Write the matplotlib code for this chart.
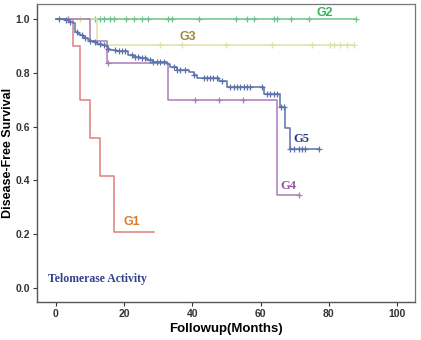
import numpy as np
import matplotlib
matplotlib.use("Agg")
import matplotlib.pyplot as plt

# ---------------- data ----------------
# each group: event times (months), survival after each event, end of follow-up, censor times
g1_times = [5.0, 7.0, 10.0, 13.0, 17.0]
g1_surv = [0.90, 0.70, 0.556, 0.417, 0.208]
g1_end = 28.7
g1_cens = []

g2_times = []
g2_surv = []
g2_end = 88.1
g2_cens = [11.5, 13.0, 14.2, 15.9, 17.1, 20.6, 22.8, 25.2, 27.0, 33.0, 34.0, 42.0,
           52.9, 56.0, 58.0, 63.8, 64.8, 68.9, 74.1, 88.1]

g3_times = [12.0]
g3_surv = [0.902]
g3_end = 87.5
g3_cens = [3.7, 7.1, 30.6, 37.0, 50.0, 63.3, 75.0, 80.3, 81.4, 83.4, 85.3, 87.5]

g4_times = [9.9, 15.0, 32.8, 64.8]
g4_surv = [0.917, 0.835, 0.698, 0.345]
g4_end = 71.4
g4_cens = [3.7, 15.2, 40.9, 47.9, 55.0, 71.4]

g5_times = [3.0, 4.2, 5.0, 5.7, 6.4, 7.1, 7.9, 8.6, 9.3, 10.1, 11.1, 12.2, 13.5, 14.5,
            15.2, 16.0, 17.5, 21.3, 22.8, 24.7, 26.7, 28.6, 32.5, 33.5, 35.5, 38.9,
            40.4, 41.4, 47.7, 50.2, 61.0, 65.6, 67.3, 68.5]
g5_surv = [0.995, 0.99, 0.985, 0.95, 0.945, 0.94, 0.933, 0.928, 0.923, 0.918, 0.913,
           0.908, 0.903, 0.898, 0.890, 0.886, 0.882, 0.866, 0.860, 0.853, 0.847, 0.841,
           0.834, 0.822, 0.810, 0.803, 0.790, 0.781, 0.770, 0.746, 0.720, 0.671, 0.595,
           0.518]
g5_end = 77.2
g5_cens = [0.8, 3.0, 4.2, 6.2, 7.6, 8.6, 10.1, 11.5, 13.0, 14.0, 15.4, 17.4, 18.4, 19.4,
           20.3, 22.3, 23.3, 24.2, 25.2, 26.2, 27.7, 28.6, 29.6, 30.6, 31.6, 34.5, 35.5,
           36.5, 37.9, 40.4, 43.3, 44.3, 45.3, 46.2, 47.2, 48.7, 51.1, 52.1, 53.1, 54.1,
           55.1, 56.0, 57.0, 60.4, 61.9, 62.9, 63.8, 64.8, 66.1, 66.8, 68.7, 69.7, 71.2,
           72.1, 73.1, 77.2]

group_names = ["G1", "G2", "G3", "G4", "G5"]
x_ticks = [0, 20, 40, 60, 80, 100]
y_ticks = [0.0, 0.2, 0.4, 0.6, 0.8, 1.0]

# ---------------- styling ----------------
line_colors = ["#e07f7f", "#6cc48a", "#dfe0a6", "#a97cba", "#5c72aa"]
label_colors = ["#e07a2c", "#36b25e", "#9c8a3e", "#9a4fa0", "#27377f"]

plt.rcParams['font.family'] = ['Liberation Sans', 'DejaVu Sans']

fig = plt.figure(figsize=(4.21, 3.40), dpi=100)
ax = fig.add_axes([0.088, 0.112, 0.898, 0.876])

groups = [
    (g1_times, g1_surv, g1_end, g1_cens),
    (g2_times, g2_surv, g2_end, g2_cens),
    (g3_times, g3_surv, g3_end, g3_cens),
    (g4_times, g4_surv, g4_end, g4_cens),
    (g5_times, g5_surv, g5_end, g5_cens),
]

draw_order = [2, 1, 3, 0, 4]
for i in draw_order:
    times, surv, end, cens = groups[i]
    t = np.array([0.0] + list(times) + [end])
    s = np.array([1.0] + list(surv) + [surv[-1] if surv else 1.0])
    ax.step(t, s, where='post', color=line_colors[i], lw=1.1, zorder=2 + i)
    if cens:
        c = np.array(cens)
        idx = np.searchsorted(t, c, side='right') - 1
        idx = np.clip(idx, 0, len(s) - 1)
        ax.plot(c, s[idx], linestyle='none', marker='+', ms=4, mew=0.9,
                color=line_colors[i], zorder=2 + i)

# group labels
ax.text(78.7, 1.023, "G2", color=label_colors[1], fontsize=9, fontweight='bold',
        ha='center', va='center')
ax.text(38.7, 0.933, "G3", color=label_colors[2], fontsize=9, fontweight='bold',
        ha='center', va='center')
ax.text(72.1, 0.554, "G5", color=label_colors[4], fontsize=9, fontweight='bold',
        ha='center', va='center', family=['Liberation Serif', 'DejaVu Serif'])
ax.text(68.2, 0.380, "G4", color=label_colors[3], fontsize=9, fontweight='bold',
        ha='center', va='center', family=['Liberation Serif', 'DejaVu Serif'])
ax.text(22.3, 0.244, "G1", color=label_colors[0], fontsize=9, fontweight='bold',
        ha='center', va='center')
ax.text(-2.2, 0.033, "Telomerase Activity", color="#34408e", fontsize=8.5,
        fontweight='bold', ha='left', va='center',
        family=['Liberation Serif', 'DejaVu Serif'])

ax.set_xlim(-5.5, 105.3)
ax.set_ylim(-0.051, 1.055)
ax.set_xticks(x_ticks)
ax.set_xticklabels([str(v) for v in x_ticks])
ax.set_yticks(y_ticks)
ax.set_yticklabels([f"{v:.1f}" for v in y_ticks])
ax.tick_params(direction='out', length=3, width=0.8, labelsize=7.5, colors='#333333',
               pad=2)
for lab in ax.get_xticklabels() + ax.get_yticklabels():
    lab.set_fontweight('bold')

ax.set_xlabel("Followup(Months)", fontsize=9.5, fontweight='bold', labelpad=3)
ax.set_ylabel("Disease-Free Survival", fontsize=9, fontweight='bold', va='center')
ax.yaxis.set_label_coords(-0.077, 0.5)

for side in ['left', 'bottom']:
    ax.spines[side].set_color('#555555')
    ax.spines[side].set_linewidth(1.0)
for side in ['top', 'right']:
    ax.spines[side].set_color('#777777')
    ax.spines[side].set_linewidth(0.9)

fig.savefig("out.png", dpi=100)
